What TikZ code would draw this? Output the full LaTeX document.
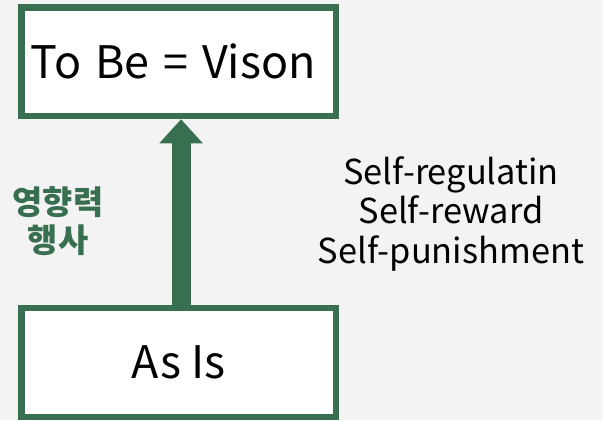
\documentclass[tikz,border=0pt]{standalone}
\usepackage{fontspec}
\setmainfont{Noto Sans CJK KR}
\usetikzlibrary{arrows.meta}
\definecolor{bg}{HTML}{F3F3F3}
\definecolor{dgreen}{HTML}{386F51}
\tikzset{
  box/.style={draw=dgreen, line width=6.5bp, fill=white, minimum width=314.5bp, inner sep=0pt, font={\fontsize{45}{54}\selectfont}},
  bigarrow/.style={draw=dgreen, line width=19bp, -{Triangle[width=42bp,length=24bp]}},
}
\begin{document}
\begin{tikzpicture}[x=1bp,y=-1bp]
\fill[bg] (0,0) rectangle (603,420);
\useasboundingbox (0,0) rectangle (603,420);
\node[box, minimum height=108.5bp] (tobe) at (178.75,61.75) {\spaceskip=0.31em\relax\hspace*{-11bp}To Be = Vison};
\node[box, minimum height=109bp] (asis) at (178.75,362.5) {As Is};
\draw[bigarrow] ([xshift=2.3bp]asis.north) -- ([xshift=2.3bp]tobe.south);
\node[text=dgreen, font=\fontsize{33}{38}\selectfont\bfseries, align=center] (infl) at (58,221) {영향력\\행사};
\node[align=center, font=\fontsize{34.5}{40}\selectfont] (self) at (451,214) {Self-regulatin\\Self-reward\\Self-punishment};
\end{tikzpicture}
\end{document}
